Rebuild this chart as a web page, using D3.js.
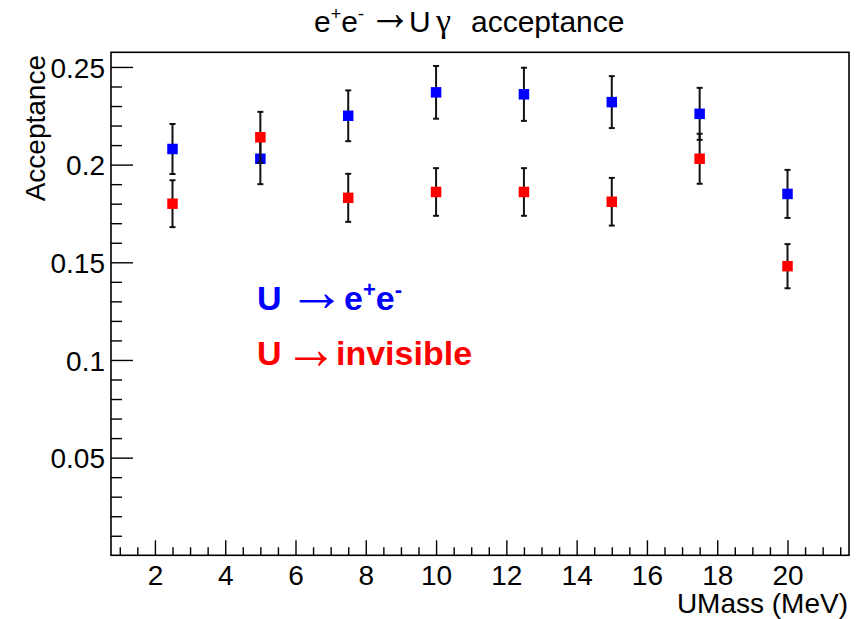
<!DOCTYPE html>
<html>
<head>
<meta charset="utf-8">
<script src="https://cdn.jsdelivr.net/npm/d3@7"></script>
<style>
  html, body { margin: 0; padding: 0; background: #fff; }
  svg { display: block; }
  text { font-family: "Liberation Sans", Arial, Helvetica, sans-serif; fill: #000; }
  .arrow { font-family: "Liberation Serif", "DejaVu Serif", serif; font-weight: normal; }
  .greek { font-family: "Liberation Serif", "DejaVu Serif", serif; }
</style>
</head>
<body>
<svg id="chart" width="860" height="619"></svg>
<script>
// U boson mass points (MeV)
const massPoints = [2.5, 5, 7.5, 10, 12.5, 15, 17.5, 20];

// Acceptance for U -> e+e- with its uncertainty
const accEE    = [0.208, 0.203, 0.225, 0.237, 0.236, 0.232, 0.226, 0.185];
const accEEErr = [0.0128, 0.013, 0.013, 0.0135, 0.0136, 0.0133, 0.0133, 0.0123];

// Acceptance for U -> invisible with its uncertainty
const accInv    = [0.180, 0.214, 0.183, 0.186, 0.186, 0.181, 0.203, 0.148];
const accInvErr = [0.012, 0.013, 0.0123, 0.0122, 0.0122, 0.0122, 0.0128, 0.0113];

// Axis ticks
const xMajorTicks = [2, 4, 6, 8, 10, 12, 14, 16, 18, 20];
const yMajorTicks = [0.05, 0.1, 0.15, 0.2, 0.25];
const yTickLabels = ["0.05", "0.1", "0.15", "0.2", "0.25"];

const svg = d3.select("#chart");

const frame = { left: 111, right: 849, top: 52.3, bottom: 555.3 };

const x = d3.scaleLinear().domain([0.75, 21.75]).range([frame.left, frame.right]);
const y = d3.scaleLinear().domain([0, 0.2575]).range([frame.bottom, frame.top]);

// minor tick positions
const xMinorTicks = d3.range(1, 21.75, 0.5).filter(v => !xMajorTicks.includes(v));
const yMinorTicks = d3.range(1, 26).map(i => i / 100)
  .filter(v => !yMajorTicks.some(m => Math.abs(m - v) < 1e-9));

const FONT = 28;

// ---- x axis ----
const gx = svg.append("g").attr("transform", `translate(0,${frame.bottom})`);
gx.call(d3.axisBottom(x).tickValues(xMajorTicks).tickSize(-15).tickPadding(10)
  .tickFormat(d3.format("d")));
gx.append("g").call(d3.axisBottom(x).tickValues(xMinorTicks).tickSize(-8).tickFormat(""));
gx.selectAll(".domain").remove();
gx.selectAll("line").attr("stroke", "#000").attr("stroke-width", 1.4);
gx.selectAll("text").attr("font-size", FONT).attr("dy", "0.71em")
  .style("font-family", "'Liberation Sans', Arial, sans-serif").attr("fill", "#000");

// ---- y axis ----
const gy = svg.append("g").attr("transform", `translate(${frame.left},0)`);
gy.call(d3.axisLeft(y).tickValues(yMajorTicks).tickSize(-22).tickPadding(6)
  .tickFormat((d, i) => yTickLabels[i]));
gy.append("g").call(d3.axisLeft(y).tickValues(yMinorTicks).tickSize(-11).tickFormat(""));
gy.selectAll(".domain").remove();
gy.selectAll("line").attr("stroke", "#000").attr("stroke-width", 1.4);
gy.selectAll("text").attr("font-size", FONT).attr("dy", "0.36em")
  .style("font-family", "'Liberation Sans', Arial, sans-serif").attr("fill", "#000");

// ---- frame ----
svg.append("rect")
  .attr("x", frame.left).attr("y", frame.top)
  .attr("width", frame.right - frame.left).attr("height", frame.bottom - frame.top)
  .attr("fill", "none").attr("stroke", "#000").attr("stroke-width", 1.6);

// ---- points with error bars ----
function drawSeries(values, errors, color) {
  const g = svg.append("g");
  const rows = massPoints.map((m, i) => ({ m, v: values[i], e: errors[i] }));
  const cap = 3;
  const bars = g.selectAll("g.err").data(rows).join("g").attr("class", "err");
  bars.append("line")
    .attr("x1", d => x(d.m)).attr("x2", d => x(d.m))
    .attr("y1", d => y(d.v - d.e)).attr("y2", d => y(d.v + d.e))
    .attr("stroke", "#111").attr("stroke-width", 2);
  bars.append("line")
    .attr("x1", d => x(d.m) - cap).attr("x2", d => x(d.m) + cap)
    .attr("y1", d => y(d.v + d.e)).attr("y2", d => y(d.v + d.e))
    .attr("stroke", "#111").attr("stroke-width", 2);
  bars.append("line")
    .attr("x1", d => x(d.m) - cap).attr("x2", d => x(d.m) + cap)
    .attr("y1", d => y(d.v - d.e)).attr("y2", d => y(d.v - d.e))
    .attr("stroke", "#111").attr("stroke-width", 2);
  const s = 10.5;
  g.selectAll("rect.mk").data(rows).join("rect").attr("class", "mk")
    .attr("x", d => x(d.m) - s / 2).attr("y", d => y(d.v) - s / 2)
    .attr("width", s).attr("height", s).attr("fill", color);
}
drawSeries(accEE, accEEErr, "#0000ff");
drawSeries(accInv, accInvErr, "#ff0000");

// Right arrow glyph, scaled so that its ink fills the box [x0,x1] x [yTop,yBot]
const measureCtx = document.createElement("canvas").getContext("2d");
function arrow(x0, x1, yTop, yBot, color) {
  const F = 100;
  measureCtx.font = `${F}px "Liberation Serif", "DejaVu Serif", serif`;
  const m = measureCtx.measureText("\u2192");
  const ix0 = -m.actualBoundingBoxLeft, ix1 = m.actualBoundingBoxRight;
  const iy0 = -m.actualBoundingBoxAscent, iy1 = m.actualBoundingBoxDescent;
  const sx = (x1 - x0) / (ix1 - ix0);
  const sy = (yBot - yTop) / (iy1 - iy0);
  svg.append("text").attr("class", "arrow")
    .attr("font-size", F)
    .attr("transform", `translate(${x0 - ix0 * sx},${yTop - iy0 * sy}) scale(${sx},${sy})`)
    .style("fill", color).text("\u2192");
}

// ---- title ----
const title = svg.append("text").attr("y", 32).attr("font-size", 30);
title.append("tspan").attr("x", 314).text("e");
title.append("tspan").attr("font-size", 18).attr("dy", -12).text("+");
title.append("tspan").attr("dy", 12).text("e");
title.append("tspan").attr("font-size", 18).attr("dy", -12).text("-");
title.append("tspan").attr("x", 409).attr("dy", 12).text("U");
title.append("tspan").attr("class", "greek").attr("x", 436).attr("font-size", 34).text("\u03b3");
title.append("tspan").attr("x", 471).text("acceptance");
arrow(377, 403, 15, 27.5, "#000");

// ---- axis titles ----
svg.append("text").attr("x", 848).attr("y", 613).attr("text-anchor", "end")
  .attr("font-size", FONT).text("UMass (MeV)");
svg.append("text").attr("transform", "translate(45,55) rotate(-90)")
  .attr("text-anchor", "end").attr("font-size", FONT).text("Acceptance");

// ---- decay-channel labels ----
const l1 = svg.append("text").attr("y", 310)
  .attr("font-size", 34).attr("font-weight", "bold").style("fill", "#0000ff");
l1.append("tspan").attr("x", 257).text("U");
l1.append("tspan").attr("x", 344).text("e");
l1.append("tspan").attr("font-size", 22).attr("dy", -13).text("+");
l1.append("tspan").attr("dy", 13).text("e");
l1.append("tspan").attr("font-size", 22).attr("dy", -13).text("-");
arrow(299.5, 334, 294, 308, "#0000ff");

const l2 = svg.append("text").attr("y", 365)
  .attr("font-size", 34).attr("font-weight", "bold").style("fill", "#ff0000");
l2.append("tspan").attr("x", 257).text("U");
l2.append("tspan").attr("x", 336).text("invisible");
arrow(295, 327, 351.5, 366, "#ff0000");
</script>
</body>
</html>
